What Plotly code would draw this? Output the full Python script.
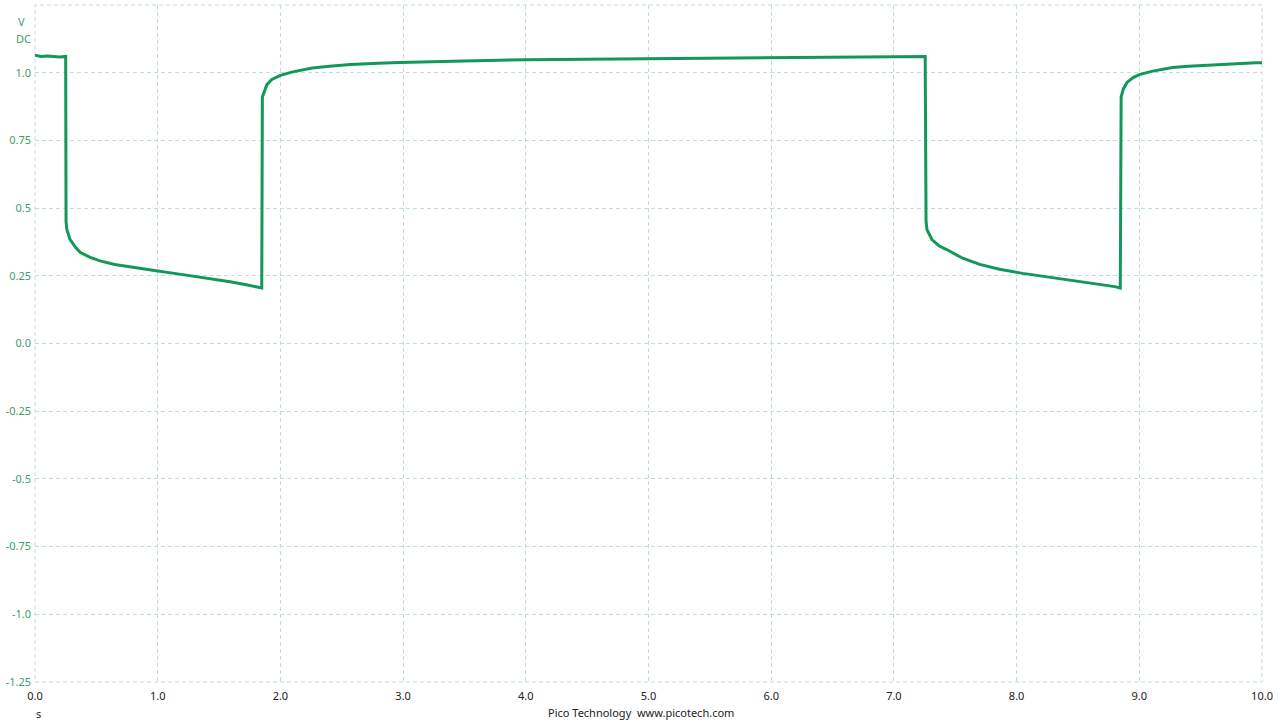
import plotly.graph_objects as go

# Time (s) and voltage (V DC)
time_s = [0.0, 0.05, 0.1, 0.15, 0.2, 0.25, 0.253, 0.26, 0.285, 0.33, 0.37, 0.45, 0.53, 0.65,
          0.77, 0.9, 1.0, 1.15, 1.34, 1.5, 1.59, 1.7, 1.83, 1.848, 1.853, 1.87, 1.89, 1.93,
          2.0, 2.1, 2.26, 2.4, 2.57, 2.8, 2.97, 3.5, 4.0, 4.5, 5.0, 5.5, 6.0, 6.5, 7.0,
          7.255, 7.262, 7.27, 7.31, 7.37, 7.43, 7.56, 7.7, 7.86, 8.05, 8.27, 8.5, 8.67,
          8.8, 8.845, 8.852, 8.87, 8.9, 8.95, 9.0, 9.1, 9.27, 9.4, 9.54, 9.75, 9.95, 10.0]
volts = [1.065, 1.06, 1.062, 1.06, 1.058, 1.06, 0.45, 0.42, 0.385, 0.355, 0.336, 0.318, 0.305, 0.292,
         0.283, 0.275, 0.268, 0.258, 0.246, 0.236, 0.228, 0.219, 0.207, 0.205, 0.91, 0.935, 0.956, 0.975,
         0.99, 1.003, 1.017, 1.024, 1.03, 1.035, 1.038, 1.043, 1.048, 1.05, 1.052, 1.054, 1.057, 1.058, 1.06,
         1.06, 0.45, 0.42, 0.384, 0.36, 0.347, 0.315, 0.292, 0.274, 0.259, 0.245, 0.229, 0.219,
         0.21, 0.205, 0.91, 0.94, 0.964, 0.982, 0.993, 1.005, 1.019, 1.024, 1.028, 1.033, 1.037, 1.037]

x_ticks = [0, 1, 2, 3, 4, 5, 6, 7, 8, 9, 10]
x_labels = ["0.0", "1.0", "2.0", "3.0", "4.0", "5.0", "6.0", "7.0", "8.0", "9.0", "10.0"]
y_ticks = [1.25, 1.0, 0.75, 0.5, 0.25, 0.0, -0.25, -0.5, -0.75, -1.0, -1.25]
y_labels = ["1.25", "1.0", "0.75", "0.5", "0.25", "0.0", "-0.25", "-0.5", "-0.75", "-1.0", "-1.25"]

GREEN = "#14985a"
LABEL_GREEN = "#3a9e68"
GRID = "#c2dbe4"
FONT = "Noto Sans, Open Sans, DejaVu Sans, sans-serif"

fig = go.Figure()
fig.add_trace(go.Scatter(x=time_s, y=volts, mode="lines",
                         line=dict(color=GREEN, width=3), hoverinfo="skip"))

fig.update_layout(
    width=1280, height=720,
    margin=dict(l=35, r=18, t=5, b=38),
    paper_bgcolor="white", plot_bgcolor="white",
    showlegend=False,
    font=dict(family=FONT, size=11, color="#222222"),
    xaxis=dict(range=[0, 10], tickvals=x_ticks, ticktext=x_labels,
               showgrid=True, gridcolor=GRID, griddash="4px,3px", gridwidth=1,
               zeroline=False, showline=False, ticks="", ticklabelstandoff=6,
               tickfont=dict(family=FONT, size=11, color="#222222")),
    yaxis=dict(range=[-1.25, 1.25], tickvals=y_ticks, ticktext=y_labels,
               showgrid=True, gridcolor=GRID, griddash="4px,3px", gridwidth=1,
               zeroline=False, showline=False, ticks="", ticklabelstandoff=3,
               tickfont=dict(family=FONT, size=11, color=LABEL_GREEN)),
)

fig.add_shape(type="rect", xref="paper", yref="paper", x0=0, y0=0, x1=1, y1=1,
              line=dict(color=GRID, width=1, dash="4px,3px"), layer="below")

fig.add_annotation(text="V", xref="paper", yref="paper", x=-0.011, y=0.976,
                   xanchor="center", yanchor="middle", showarrow=False,
                   font=dict(family=FONT, size=11, color=LABEL_GREEN))
fig.add_annotation(text="DC", xref="paper", yref="paper", x=-0.009, y=0.951,
                   xanchor="center", yanchor="middle", showarrow=False,
                   font=dict(family=FONT, size=11, color=LABEL_GREEN))
fig.add_annotation(text="s", xref="paper", yref="paper", x=0.003, y=-0.046,
                   xanchor="center", yanchor="middle", showarrow=False,
                   font=dict(family=FONT, size=11, color="#222222"))
fig.add_annotation(text="Pico Technology  www.picotech.com", xref="paper", yref="paper",
                   x=0.4935, y=-0.045, xanchor="center", yanchor="middle", showarrow=False,
                   font=dict(family=FONT, size=11, color="#222222"))

fig.write_html("out.html", config={"displayModeBar": False, "staticPlot": True},
               post_script="document.body.style.margin='0';document.body.style.overflow='hidden';")
